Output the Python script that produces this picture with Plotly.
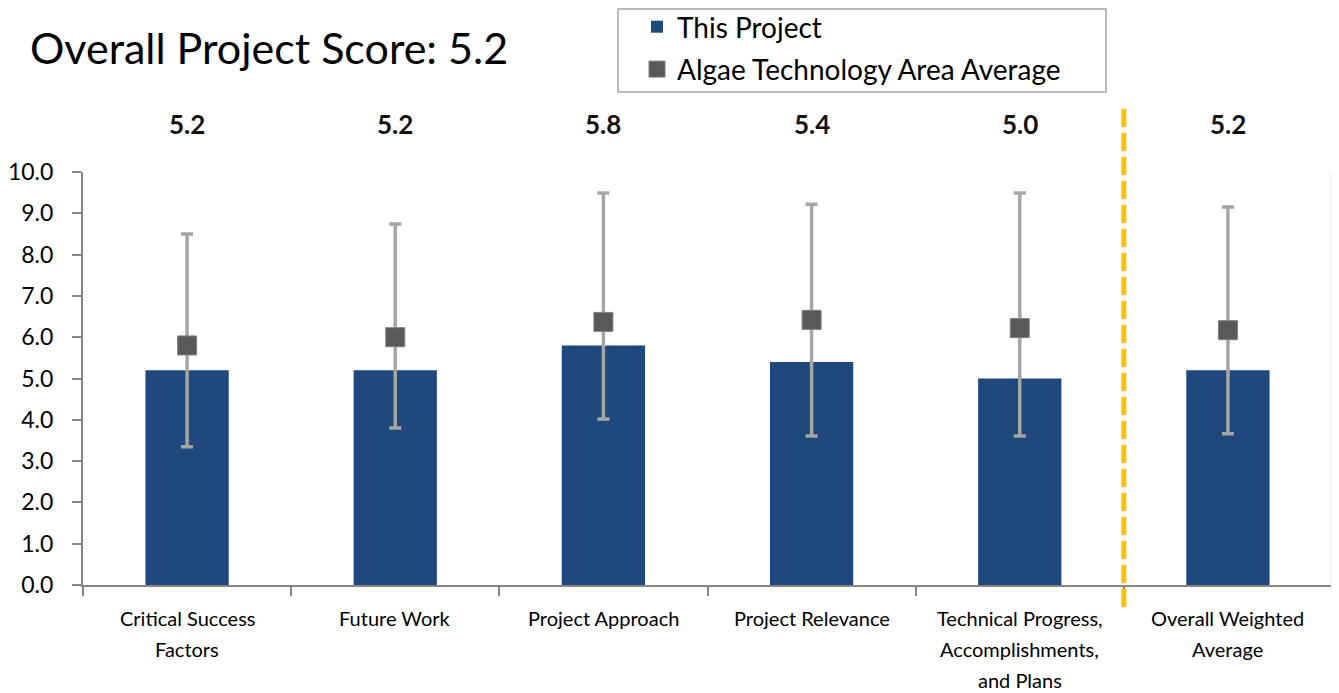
import plotly.graph_objects as go

categories = ["Critical Success Factors", "Future Work", "Project Approach",
              "Project Relevance", "Technical Progress, Accomplishments, and Plans",
              "Overall Weighted Average"]
label_lines = [["Critical Success", "Factors"], ["Future Work"], ["Project Approach"],
               ["Project Relevance"], ["Technical Progress,", "Accomplishments,", "and Plans"],
               ["Overall Weighted", "Average"]]
project_scores = [5.2, 5.2, 5.8, 5.4, 5.0, 5.2]
area_average = [5.8, 6.0, 6.37, 6.42, 6.22, 6.17]
area_max = [8.5, 8.74, 9.49, 9.22, 9.49, 9.15]
area_min = [3.35, 3.8, 4.02, 3.61, 3.61, 3.66]
y_ticks = [0, 1, 2, 3, 4, 5, 6, 7, 8, 9, 10]
overall_score = 5.2

FONT = "Lato"
OFF = 8  # page body margin
W, H = 1339 - OFF, 693 - OFF
L, T = 83 - OFF, 172 - OFF
R = W - (1332 - OFF)
B = H - (585 - OFF)
PW, PH = W - L - R, H - T - B

def py(pix):  # page pixel y -> paper y
    return (H - B - (pix - OFF)) / PH

def px(pix):  # page pixel x -> paper x
    return ((pix - OFF) - L) / PW

fig = go.Figure()
fig.add_trace(go.Bar(
    x=categories, y=project_scores, name="This Project",
    marker=dict(color="#1F497D", line=dict(width=0)),
    width=0.4, legendgroup="a",
))
fig.add_trace(go.Scatter(
    x=categories, y=area_average, name="Algae Technology Area Average",
    mode="markers",
    marker=dict(symbol="square", size=19, color="#595959",
                line=dict(color="#7f7f7f", width=1)),
    error_y=dict(type="data", symmetric=False,
                 array=[mx - a for mx, a in zip(area_max, area_average)],
                 arrayminus=[a - mn for mn, a in zip(area_min, area_average)],
                 color="#A6A6A6", thickness=3.5, width=6),
    legendgroup="b",
))

annotations = []
for cat, v in zip(categories, project_scores):
    annotations.append(dict(x=cat, y=py(124), xref="x", yref="paper",
                            text=f"<b>{v:.1f}</b>", showarrow=False,
                            font=dict(family=FONT, size=26, color="#111111"),
                            yanchor="middle"))
for cat, lines in zip(categories, label_lines):
    for i, line in enumerate(lines):
        annotations.append(dict(x=cat, y=py(618 + 31 * i), xref="x", yref="paper",
                                text=line, showarrow=False,
                                font=dict(family=FONT, size=20, color="#000000"),
                                yanchor="middle"))
annotations.append(dict(x=px(28), y=py(48), xref="paper", yref="paper",
                        text=f"Overall Project Score: {overall_score}",
                        showarrow=False, xanchor="left", yanchor="middle",
                        font=dict(family=FONT, size=43, color="#000000")))

shapes = [
    dict(type="line", xref="x", yref="paper", x0=4.5, x1=4.5,
         y0=py(607), y1=py(106),
         line=dict(color="#FFC000", width=5, dash="18px,6px")),
    dict(type="line", xref="paper", yref="paper", x0=1, x1=1,
         y0=py(592), y1=1, line=dict(color="#BFBFBF", width=2.5)),
    dict(type="rect", xref="paper", yref="paper", x0=px(618), x1=px(1106),
         y0=py(92), y1=py(9), line=dict(color="#A6A6A6", width=1.5)),
]

fig.update_layout(
    width=W, height=H,
    margin=dict(l=L, r=R, t=T, b=B, autoexpand=False),
    paper_bgcolor="white", plot_bgcolor="white",
    font=dict(family=FONT, color="#111111"),
    annotations=annotations, shapes=shapes,
    showlegend=True,
    legend=dict(x=px(637), y=py(2), xanchor="left", yanchor="top",
                font=dict(family=FONT, size=28, color="#000000"),
                bgcolor="rgba(0,0,0,0)", borderwidth=0,
                traceorder="grouped", tracegroupgap=3),
    bargap=0.6,
)
fig.update_xaxes(
    type="category", range=[-0.5, 5.5], showticklabels=False, automargin=False,
    tickson="boundaries", ticks="outside", ticklen=9, tickcolor="#868686",
    tickwidth=2, showline=True, linecolor="#868686", linewidth=2,
    showgrid=False, zeroline=False,
)
fig.update_yaxes(
    range=[0, 10], tickvals=y_ticks, ticktext=[f"{v:.1f}" for v in y_ticks],
    ticks="outside", ticklen=9, tickcolor="#868686", tickwidth=2, automargin=False,
    showline=True, linecolor="#868686", linewidth=2,
    showgrid=False, zeroline=False, ticklabelstandoff=14,
    tickfont=dict(family=FONT, size=23, color="#000000"),
)

fig.write_html("out.html")
